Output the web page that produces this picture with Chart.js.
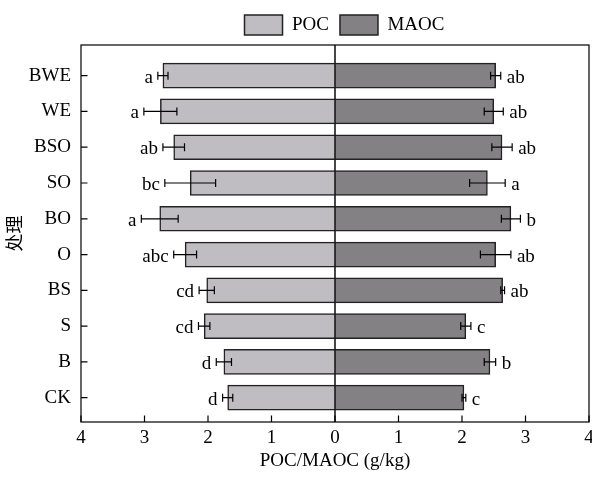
<!DOCTYPE html>
<html>
<head>
<meta charset="utf-8">
<script src="https://cdn.jsdelivr.net/npm/chart.js@4.4.1/dist/chart.umd.min.js"></script>
<style>
  body { margin: 0; background: #fff; }
  #wrap { width: 592px; height: 477px; }
</style>
</head>
<body>
<div id="wrap"><canvas id="pocChart"></canvas></div>
<script>
// treatments, top to bottom
const categories = ['BWE', 'WE', 'BSO', 'SO', 'BO', 'O', 'BS', 'S', 'B', 'CK'];

// POC (g/kg), drawn to the left
const pocValues = [2.71, 2.75, 2.54, 2.28, 2.76, 2.36, 2.02, 2.06, 1.75, 1.69];
const pocErrors = [0.08, 0.26, 0.17, 0.40, 0.29, 0.18, 0.12, 0.09, 0.12, 0.08];
const pocLetters = ['a', 'a', 'ab', 'bc', 'a', 'abc', 'cd', 'cd', 'd', 'd'];

// MAOC (g/kg), drawn to the right
const maocValues = [2.53, 2.50, 2.63, 2.40, 2.77, 2.53, 2.64, 2.06, 2.44, 2.03];
const maocErrors = [0.08, 0.15, 0.16, 0.28, 0.15, 0.24, 0.03, 0.08, 0.09, 0.03];
const maocLetters = ['ab', 'ab', 'ab', 'a', 'b', 'ab', 'ab', 'c', 'b', 'c'];

const xTicks = [-4, -3, -2, -1, 0, 1, 2, 3, 4];

// category index range of the y axis (uneven margins at top and bottom)
const yMin = -0.857;
const yMax = 9.68;

const serif = 'Liberation Serif';

// frame, inward ticks, center line, error bars and letters
const decorations = {
    id: 'decorations',
    afterLayout(chart) {
        // legend sits a bit right of the canvas center in the original
        chart.legend.left += 50;
        chart.legend.right += 50;
    },
    afterDatasetsDraw(chart) {
        const { ctx, chartArea: area, scales: { x, y } } = chart;
        ctx.save();
        ctx.strokeStyle = '#000';
        ctx.lineWidth = 1.2;

        // error bars
        const drawErr = (vals, errs, sign) => {
            vals.forEach((v, i) => {
                const cy = y.getPixelForValue(i);
                const x1 = x.getPixelForValue(sign * (v - errs[i]));
                const x2 = x.getPixelForValue(sign * (v + errs[i]));
                ctx.beginPath();
                ctx.moveTo(x1, cy); ctx.lineTo(x2, cy);
                ctx.moveTo(x1, cy - 4); ctx.lineTo(x1, cy + 4);
                ctx.moveTo(x2, cy - 4); ctx.lineTo(x2, cy + 4);
                ctx.stroke();
            });
        };
        drawErr(pocValues, pocErrors, -1);
        drawErr(maocValues, maocErrors, 1);

        // significance letters
        ctx.fillStyle = '#000';
        ctx.font = '19px "' + serif + '"';
        ctx.textBaseline = 'alphabetic';
        ctx.textAlign = 'right';
        pocLetters.forEach((t, i) => {
            const px = x.getPixelForValue(-(pocValues[i] + pocErrors[i]));
            ctx.fillText(t, px - 5, y.getPixelForValue(i) + 7);
        });
        ctx.textAlign = 'left';
        maocLetters.forEach((t, i) => {
            const px = x.getPixelForValue(maocValues[i] + maocErrors[i]);
            ctx.fillText(t, px + 6, y.getPixelForValue(i) + 7);
        });

        // center line
        const x0 = x.getPixelForValue(0);
        ctx.lineWidth = 1.6;
        ctx.strokeStyle = '#1a1a1a';
        ctx.beginPath();
        ctx.moveTo(x0, area.top); ctx.lineTo(x0, area.bottom);
        ctx.stroke();

        // frame
        ctx.lineWidth = 1.2;
        ctx.strokeStyle = '#000';
        ctx.strokeRect(area.left, area.top, area.right - area.left, area.bottom - area.top);

        // inward ticks
        ctx.beginPath();
        categories.forEach((c, i) => {
            const py = y.getPixelForValue(i);
            ctx.moveTo(area.left, py); ctx.lineTo(area.left + 6.5, py);
        });
        xTicks.forEach(t => {
            const px = x.getPixelForValue(t);
            ctx.moveTo(px, area.bottom); ctx.lineTo(px, area.bottom - 6.5);
        });
        ctx.stroke();
        ctx.restore();
    }
};

function initializeChart() {
    const ctx = document.getElementById('pocChart');
    if (!ctx) {
        console.warn('Chart canvas element is missing!');
        return;
    }

    new Chart(ctx.getContext('2d'), {
        type: 'bar',
        data: {
            datasets: [{
                label: 'POC',
                data: pocValues.map((v, i) => ({ x: -v, y: i })),
                backgroundColor: '#bfbdc2',
                borderColor: '#222222',
                borderWidth: 1.5,
                barThickness: 25,
                grouped: false
            }, {
                label: 'MAOC',
                data: maocValues.map((v, i) => ({ x: v, y: i })),
                backgroundColor: '#838184',
                borderColor: '#222222',
                borderWidth: 1.5,
                barThickness: 25,
                grouped: false
            }]
        },
        options: {
            indexAxis: 'y',
            responsive: true,
            maintainAspectRatio: false,
            animation: false,
            layout: { padding: { top: 4, right: 3, left: 0, bottom: 0 } },
            plugins: {
                tooltip: { enabled: false },
                legend: {
                    display: true,
                    position: 'top',
                    labels: {
                        boxWidth: 38,
                        boxHeight: 20,
                        padding: 11,
                        color: '#000',
                        font: { family: serif, size: 19 }
                    }
                }
            },
            scales: {
                x: {
                    type: 'linear',
                    min: -4,
                    max: 4,
                    grid: { display: false, drawTicks: false },
                    border: { display: false },
                    afterBuildTicks: s => { s.ticks = xTicks.map(v => ({ value: v })); },
                    afterFit: s => { s.height = 55; s.paddingLeft = 0; s.paddingRight = 0; },
                    ticks: {
                        padding: 5,
                        color: '#000',
                        font: { family: serif, size: 19 },
                        callback: v => Math.abs(v)
                    },
                    title: {
                        display: true,
                        text: 'POC/MAOC (g/kg)',
                        color: '#000',
                        padding: { top: 0, bottom: 5 },
                        font: { family: serif, size: 19 }
                    }
                },
                y: {
                    type: 'linear',
                    reverse: true,
                    offset: false,
                    bounds: 'data',
                    min: yMin,
                    max: yMax,
                    grid: { display: false, drawTicks: false, offset: false },
                    border: { display: false },
                    afterBuildTicks: s => {
                        s.ticks = categories.map((c, i) => ({ value: i }));
                    },
                    afterFit: s => { s.width = 81; },
                    ticks: {
                        padding: 10,
                        color: '#000',
                        font: { family: serif, size: 19 },
                        callback: v => categories[v]
                    },
                    title: {
                        display: true,
                        text: '处理',
                        color: '#000',
                        padding: { top: 3, bottom: 0 },
                        font: { family: 'Noto Sans CJK SC', size: 18 }
                    }
                }
            }
        },
        plugins: [decorations]
    });
}

initializeChart();
</script>
</body>
</html>
